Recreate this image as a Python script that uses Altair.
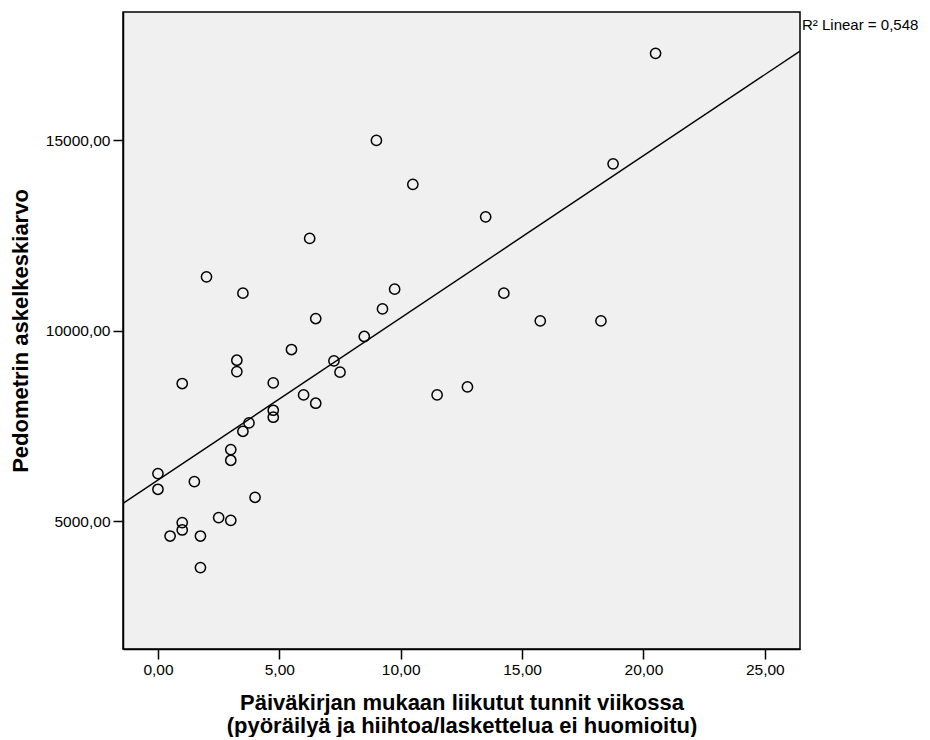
import altair as alt
import pandas as pd

hours = [20.5, 18.75, 9.0, 10.5, 13.5, 6.25, 2.0, 3.5, 9.75, 14.25, 9.25, 6.5,
         15.75, 18.25, 8.5, 5.5, 3.25, 7.25, 3.25, 7.5, 1.0, 4.75, 12.75, 11.5,
         6.0, 6.5, 4.75, 4.75, 3.75, 3.5, 3.0, 3.0, 0.0, 1.5, 0.0, 4.0, 2.5, 3.0,
         1.0, 1.0, 0.5, 1.75, 1.75]
steps = [17276, 14378, 14992, 13840, 12988, 12421, 11413, 10985, 11089, 10985,
         10572, 10319, 10257, 10257, 9848, 9506, 9225, 9208, 8928, 8911, 8614,
         8630, 8525, 8315, 8315, 8097, 7913, 7730, 7580, 7362, 6882, 6601, 6252,
         6042, 5840, 5630, 5097, 5026, 4966, 4772, 4614, 4614, 3785]
x_ticks = [0, 5, 10, 15, 20, 25]
y_ticks = [5000, 10000, 15000]
x_domain = [-1.44, 26.45]
y_domain = [1650, 18360]
r2_label = ["R\u00b2 Linear = 0,548"]

df = pd.DataFrame({"hours": hours, "steps": steps})
FONT = "Liberation Sans"
W, H = 677, 637

x_enc = alt.X("hours:Q",
              scale=alt.Scale(domain=x_domain, nice=False, zero=False),
              axis=alt.Axis(values=x_ticks,
                            labelExpr="replace(format(datum.value, '.2f'), '.', ',')",
                            title=["Päiväkirjan mukaan liikutut tunnit viikossa",
                                   "(pyöräilyä ja hiihtoa/laskettelua ei huomioitu)"],
                            grid=False, tickSize=10, labelPadding=3,
                            titlePadding=15))
y_enc = alt.Y("steps:Q",
              scale=alt.Scale(domain=y_domain, nice=False, zero=False),
              axis=alt.Axis(values=y_ticks,
                            labelExpr="replace(format(datum.value, '.2f'), '.', ',')",
                            title="Pedometrin askelkeskiarvo",
                            grid=False, tickSize=10, labelPadding=3,
                            titlePadding=13))

points = alt.Chart(df).mark_point(
    shape="circle", filled=False, color="black", size=105, strokeWidth=1.5,
    opacity=1
).encode(x=x_enc, y=y_enc)

fit = alt.Chart(df).transform_regression(
    "hours", "steps", extent=x_domain
).mark_line(color="black", strokeWidth=1.4, clip=True).encode(
    x="hours:Q", y="steps:Q")

r2 = alt.Chart(pd.DataFrame({"label": r2_label})).mark_text(
    align="left", baseline="middle", font=FONT, fontSize=15, color="black"
).encode(text="label:N", x=alt.value(W + 2), y=alt.value(13))

chart = alt.layer(points, fit, r2).properties(
    width=W, height=H,
    padding={"left": 1, "top": 4, "right": 2, "bottom": 0},
    background="white",
).configure_view(
    fill="#F0F0F0", stroke="black", strokeWidth=1.5
).configure_axis(
    domainColor="black", domainWidth=1.5, tickColor="black", tickWidth=1.5,
    labelFont=FONT, labelFontSize=15.5, labelColor="black",
    titleFont=FONT, titleFontSize=22, titleFontWeight="bold", titleColor="black",
    titleLineHeight=23
)

chart.save("out.html", embed_options={"renderer": "svg", "actions": False})
